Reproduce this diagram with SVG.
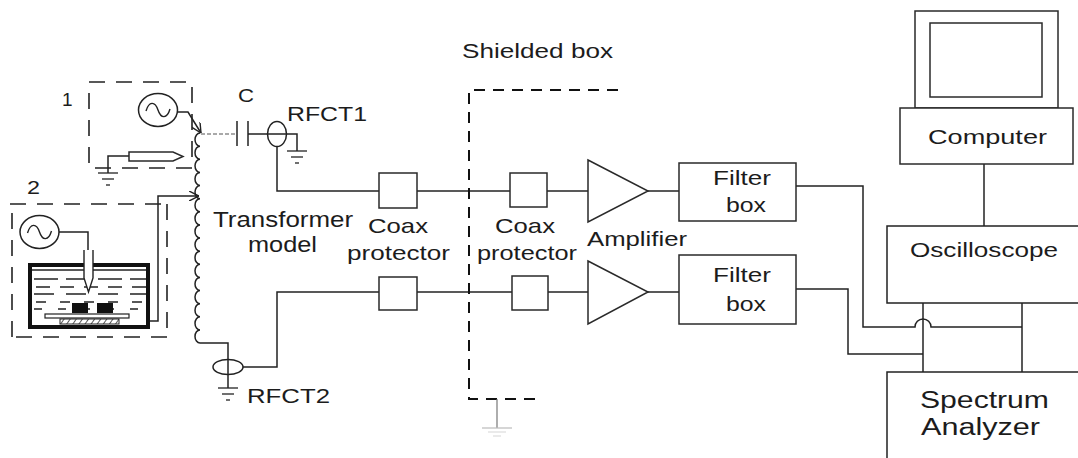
<svg xmlns="http://www.w3.org/2000/svg" width="1078" height="458" viewBox="0 0 1078 458">
  <style>
    text { font-family: "Liberation Sans", Arial, sans-serif; fill: #1c1c1c; }
    .ln { fill: none; stroke: #222; stroke-width: 1.5; }
    .box { fill: #fff; stroke: #2a2a2a; stroke-width: 1.5; }
    .dash { fill: none; stroke: #222; stroke-width: 1.6; stroke-dasharray: 16 11; }
    .shield { fill: none; stroke: #111; stroke-width: 2; stroke-dasharray: 11 8; }
    .gnd { fill: none; stroke: #222; stroke-width: 1.3; }
    .oil { fill: none; stroke: #222; stroke-width: 1.3; }
  </style>
  <defs>
    <marker id="tip" viewBox="0 0 10 10" refX="10" refY="5" markerWidth="10" markerHeight="10" markerUnits="userSpaceOnUse" orient="auto">
      <path d="M0,0 L10,5 L0,10" fill="none" stroke="#222" stroke-width="1.4"/>
    </marker>
    <g id="ground">
      <line x1="-10" y1="0" x2="10" y2="0"/>
      <line x1="-6" y1="6" x2="6" y2="6"/>
      <line x1="-2" y1="12" x2="2" y2="12"/>
    </g>
    <g id="source">
      <ellipse cx="0" cy="0" rx="19.5" ry="16.5" fill="#fff" stroke="#222" stroke-width="1.5"/>
      <path d="M-12,1 C-9,-9 -3,-9 0,0 S9,9 12,-1" fill="none" stroke="#222" stroke-width="1.4"/>
    </g>
    <pattern id="hatch" width="5" height="5" patternUnits="userSpaceOnUse" patternTransform="rotate(35)">
      <line x1="0" y1="0" x2="0" y2="5" stroke="#222" stroke-width="1.5"/>
    </pattern>
  </defs>

  <rect width="1078" height="458" fill="#fff"/>

  <!-- connectors -->
  <g id="connectors" class="ln">
    <!-- source 1 to coil top -->
    <path d="M178,112 L188,112 L201,133" marker-end="url(#tip)"/>
    <!-- coil top to capacitor -->
    <line x1="201" y1="134" x2="237" y2="134" stroke="#555" stroke-width="1.2" stroke-dasharray="4 2"/>
    <!-- capacitor to RFCT1 and its ground lead -->
    <path d="M248,134 L297,134 L297,151"/>
    <!-- RFCT1 output to upper channel -->
    <path d="M277,146 L277,191 L379,191"/>
    <path d="M417,191 L510,191"/>
    <path d="M547,191 L588,191"/>
    <path d="M648,191 L679,191"/>
    <!-- upper filter output to the analyzer lead, hopping over -->
    <path d="M796,186 L863,186 L863,327 L915,327 A8,8 0 0 1 931,327 L1022,327"/>
    <!-- coil bottom to RFCT2 -->
    <path d="M200,343 L228,343 L228,388"/>
    <!-- RFCT2 output to lower channel -->
    <path d="M243,367 L277,367 L277,292 L379,292"/>
    <path d="M417,292 L512,292"/>
    <path d="M548,292 L588,292"/>
    <path d="M648,292 L679,292"/>
    <path d="M796,289 L848,289 L848,354 L923,354"/>
    <!-- instrument links -->
    <line x1="984" y1="164" x2="984" y2="226"/>
    <line x1="923" y1="303" x2="923" y2="372"/>
    <line x1="1022" y1="303" x2="1022" y2="372"/>
    <!-- cell electrode lead to coil tap -->
    <path d="M59,232 L88,232 L88,250"/>
    <path d="M129,321 L158,321 L158,196 L199,196" marker-end="url(#tip)"/>
  </g>

  <!-- source 1: discharge source with probe -->
  <g id="source1">
    <rect class="dash" x="89" y="82" width="103" height="86"/>
    <text x="62" y="106" font-size="19">1</text>
    <use href="#source" x="158" y="110"/>
    <path class="ln" d="M108,173 L108,156 L129,156"/>
    <path class="box" d="M129,152 L173,152 L183,156.5 L173,161 L129,161 Z"/>
    <use href="#ground" x="108" y="173" class="gnd"/>
  </g>

  <!-- source 2: oil cell -->
  <g id="source2">
    <path class="dash" d="M10,204 L167,204 M167,204 L167,337 M167,337 L12,337 M12,337 L12,204"/>
    <text x="27" y="194" font-size="19" textLength="13" lengthAdjust="spacingAndGlyphs">2</text>
    <use href="#source" x="39.5" y="232"/>
    <rect x="30" y="265" width="118" height="62" fill="#fff" stroke="#111" stroke-width="4"/>
    <line class="oil" x1="32" y1="270" x2="146" y2="270"/>
    <line class="oil" x1="34" y1="279" x2="146" y2="279" stroke-dasharray="24 8"/>
    <line class="oil" x1="36" y1="287" x2="146" y2="287" stroke-dasharray="14 10"/>
    <line class="oil" x1="34" y1="294" x2="146" y2="294" stroke-dasharray="20 12"/>
    <line class="oil" x1="36" y1="302" x2="146" y2="302" stroke-dasharray="10 14"/>
    <line class="oil" x1="34" y1="309" x2="146" y2="309" stroke-dasharray="8 16"/>
    <path d="M84,250 L84,278 L88.5,292 L93,278 L93,250" fill="#fff" stroke="#222" stroke-width="1.4"/>
    <rect x="72" y="303" width="16" height="10" fill="#111"/>
    <rect x="97" y="303" width="16" height="10" fill="#111"/>
    <rect x="45" y="314" width="84" height="4" fill="#fff" stroke="#222" stroke-width="1.2"/>
    <rect x="60" y="319" width="59" height="5" fill="url(#hatch)" stroke="#222" stroke-width="1"/>
  </g>

  <!-- transformer winding -->
  <g id="transformer">
    <path class="ln" stroke="#444" d="M200,133 a5,6.5625 0 0 0 0,13.125 a5,6.5625 0 0 0 0,13.125 a5,6.5625 0 0 0 0,13.125 a5,6.5625 0 0 0 0,13.125 a5,6.5625 0 0 0 0,13.125 a5,6.5625 0 0 0 0,13.125 a5,6.5625 0 0 0 0,13.125 a5,6.5625 0 0 0 0,13.125 a5,6.5625 0 0 0 0,13.125 a5,6.5625 0 0 0 0,13.125 a5,6.5625 0 0 0 0,13.125 a5,6.5625 0 0 0 0,13.125 a5,6.5625 0 0 0 0,13.125 a5,6.5625 0 0 0 0,13.125 a5,6.5625 0 0 0 0,13.125 a5,6.5625 0 0 0 0,13.125"/>
    <text x="213" y="227" font-size="22" textLength="140" lengthAdjust="spacingAndGlyphs">Transformer</text>
    <text x="248" y="252" font-size="22" textLength="69" lengthAdjust="spacingAndGlyphs">model</text>
  </g>

  <!-- coupling capacitor -->
  <g id="capacitor">
    <line class="ln" x1="237" y1="121" x2="237" y2="146"/>
    <line class="ln" x1="248" y1="121" x2="248" y2="146"/>
    <text x="238" y="102" font-size="19" textLength="16" lengthAdjust="spacingAndGlyphs">C</text>
  </g>

  <!-- RF current transformers -->
  <g id="rfct1">
    <ellipse cx="277" cy="134" rx="9.5" ry="12.5" fill="none" stroke="#222" stroke-width="1.5"/>
    <use href="#ground" x="297" y="151" class="gnd"/>
    <text x="287" y="121" font-size="21" textLength="80" lengthAdjust="spacingAndGlyphs">RFCT1</text>
  </g>
  <g id="rfct2">
    <ellipse cx="228" cy="367" rx="15" ry="7.5" fill="none" stroke="#222" stroke-width="1.5"/>
    <use href="#ground" x="228" y="388" class="gnd"/>
    <text x="247" y="403" font-size="21" textLength="83" lengthAdjust="spacingAndGlyphs">RFCT2</text>
  </g>

  <!-- shielded enclosure with its earth -->
  <g id="shielded-box">
    <path class="shield" d="M618,90 L469,90 L469,399 L540,399"/>
    <line x1="497" y1="399" x2="497" y2="428" stroke="#777" stroke-width="1.2"/>
    <line x1="482" y1="428" x2="512" y2="428" stroke="#bbb" stroke-width="1.2"/>
    <line x1="488" y1="432" x2="506" y2="432" stroke="#ddd" stroke-width="1.2"/>
    <line x1="493" y1="436" x2="501" y2="436" stroke="#ddd" stroke-width="1.2"/>
    <text x="462" y="58" font-size="20" textLength="151" lengthAdjust="spacingAndGlyphs">Shielded box</text>
  </g>

  <!-- coax protectors -->
  <g id="coax-protector-1">
    <rect class="box" x="379" y="173" width="38" height="35"/>
    <rect class="box" x="379" y="277" width="38" height="33"/>
    <text x="368" y="233" font-size="21" textLength="60" lengthAdjust="spacingAndGlyphs">Coax</text>
    <text x="347" y="260" font-size="21" textLength="103" lengthAdjust="spacingAndGlyphs">protector</text>
  </g>
  <g id="coax-protector-2">
    <rect class="box" x="510" y="173" width="37" height="34"/>
    <rect class="box" x="512" y="276" width="36" height="34"/>
    <text x="495" y="233" font-size="21" textLength="60" lengthAdjust="spacingAndGlyphs">Coax</text>
    <text x="477" y="260" font-size="21" textLength="100" lengthAdjust="spacingAndGlyphs">protector</text>
  </g>

  <!-- amplifiers -->
  <g id="amplifier">
    <path class="box" d="M588,160 L648,191 L588,222 Z"/>
    <path class="box" d="M588,261 L648,292 L588,324 Z"/>
    <text x="587" y="246" font-size="21" textLength="100" lengthAdjust="spacingAndGlyphs">Amplifier</text>
  </g>

  <!-- filter boxes -->
  <g id="filter-box-1">
    <rect class="box" x="679" y="163" width="117" height="58"/>
    <text x="713" y="185" font-size="21" textLength="58" lengthAdjust="spacingAndGlyphs">Filter</text>
    <text x="726" y="212" font-size="21" textLength="40" lengthAdjust="spacingAndGlyphs">box</text>
  </g>
  <g id="filter-box-2">
    <rect class="box" x="679" y="255" width="117" height="69"/>
    <text x="713" y="282" font-size="21" textLength="58" lengthAdjust="spacingAndGlyphs">Filter</text>
    <text x="726" y="311" font-size="21" textLength="40" lengthAdjust="spacingAndGlyphs">box</text>
  </g>

  <!-- computer -->
  <g id="computer">
    <rect class="box" x="915" y="11" width="143" height="97"/>
    <rect class="box" x="930" y="23" width="112" height="74"/>
    <rect class="box" x="900" y="108" width="173" height="56"/>
    <text x="928" y="144" font-size="21" textLength="119" lengthAdjust="spacingAndGlyphs">Computer</text>
  </g>

  <!-- oscilloscope -->
  <g id="oscilloscope">
    <path class="ln" d="M1080,226 L887,226 L887,303 L1080,303"/>
    <text x="910" y="257" font-size="21" textLength="148" lengthAdjust="spacingAndGlyphs">Oscilloscope</text>
  </g>

  <!-- spectrum analyzer -->
  <g id="spectrum-analyzer">
    <path class="ln" d="M1080,372 L887,372 L887,460"/>
    <text x="920" y="408" font-size="23" textLength="129" lengthAdjust="spacingAndGlyphs">Spectrum</text>
    <text x="921" y="435" font-size="23" textLength="119" lengthAdjust="spacingAndGlyphs">Analyzer</text>
  </g>
</svg>
